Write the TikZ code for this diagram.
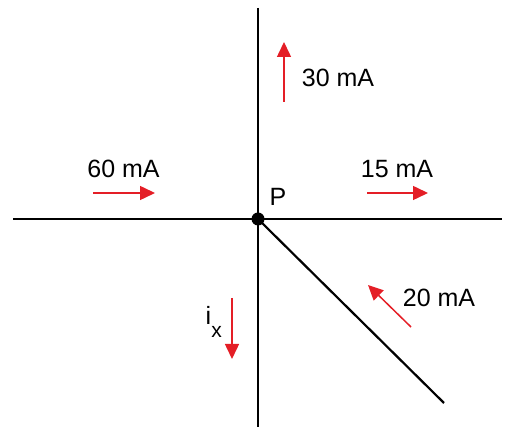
\documentclass[tikz,border=0pt]{standalone}
\usepackage{fontspec}
\setmainfont{Liberation Sans}
\usetikzlibrary{arrows.meta}
\definecolor{cur}{RGB}{228,30,38}
\begin{document}
\begin{tikzpicture}[x=1pt,y=-1pt,
  wire/.style={line width=2.2pt,black},
  curarrow/.style={line width=1.5pt,cur,-{Triangle[length=15pt,width=14pt]}},
  lbl/.style={inner sep=0pt,anchor=base,font=\fontsize{25}{30}\selectfont}]
\useasboundingbox (0,0) rectangle (512,435);
% junction and wire ends
\coordinate (P) at (258,219);
\coordinate (top) at (258,8);
\coordinate (bot) at (258,427);
\coordinate (left) at (13,219);
\coordinate (right) at (502,219);
\coordinate (diag) at (444,403);
\draw[wire] (top) -- (bot);
\draw[wire] (left) -- (right);
\draw[wire] (P) -- (diag);
\fill (P) circle (6.5);
\node[lbl] (Plbl) at (278,206) {P};
% current arrows
\coordinate (a30s) at (284,102); \coordinate (a30e) at (284,42);
\coordinate (a60s) at (93,193);  \coordinate (a60e) at (155,193);
\coordinate (a15s) at (367,193); \coordinate (a15e) at (428,193);
\coordinate (aixs) at (232,298); \coordinate (aixe) at (232,359);
\coordinate (a20s) at (411,327); \coordinate (a20e) at (368,285);
\draw[curarrow] (a30s) -- (a30e);
\draw[curarrow] (a60s) -- (a60e);
\draw[curarrow] (a15s) -- (a15e);
\draw[curarrow] (aixs) -- (aixe);
\draw[curarrow] (a20s) -- (a20e);
\node[lbl] (l30) at (338,87) {30 mA};
\node[lbl] (l60) at (123.5,178) {60 mA};
\node[lbl] (l15) at (397,178) {15 mA};
\node[lbl] (l20) at (439,307) {20 mA};
\node[lbl,anchor=base west] (lix) at (205.5,325) {i\raisebox{-13pt}{\fontsize{21}{25}\selectfont x}};
\end{tikzpicture}
\end{document}
